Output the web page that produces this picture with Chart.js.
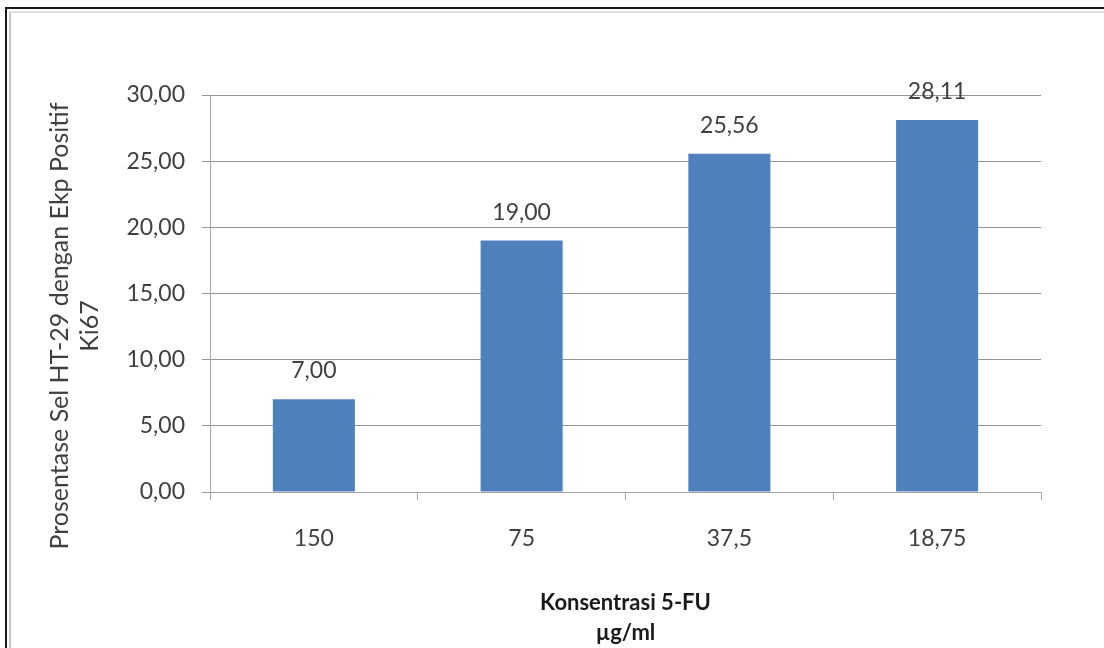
<!DOCTYPE html>
<html>
<head>
<meta charset="utf-8">
<script src="https://cdn.jsdelivr.net/npm/chart.js@4"></script>
<style>
  html, body { margin: 0; padding: 0; background: #fff; }
  #wrap { position: relative; width: 1104px; height: 648px; overflow: hidden; }
  #frame1 { position: absolute; left: 5px; top: 7px; width: 1200px; height: 800px;
            border-left: 2px solid #1a1a1a; border-top: 2px solid #1a1a1a; }
  #frame2 { position: absolute; left: 9px; top: 11px; width: 1200px; height: 800px;
            border-left: 2px solid #c8c8c8; border-top: 2px solid #e2e2e2; }
  canvas { position: absolute; left: 0; top: 0; }
</style>
</head>
<body>
<div id="wrap">
  <div id="frame1"></div>
  <div id="frame2"></div>
  <canvas id="c" width="1104" height="648"></canvas>
</div>
<script>
const categories = ['150', '75', '37,5', '18,75'];
const values = [7.00, 19.00, 25.56, 28.11];
const yTitleLines = ['Prosentase Sel HT-29 dengan Ekp Positif', 'Ki67'];
const xTitleLines = ['Konsentrasi 5-FU', 'µg/ml'];

const FONT = 'Lato';
const fmt = v => v.toFixed(2).replace('.', ',');

const dataLabelPlugin = {
  id: 'dataLabels',
  afterDatasetsDraw(chart) {
    const ctx = chart.ctx;
    const meta = chart.getDatasetMeta(0);
    ctx.save();
    ctx.font = '23px ' + FONT;
    ctx.fillStyle = '#404040';
    ctx.textAlign = 'center';
    ctx.textBaseline = 'alphabetic';
    meta.data.forEach((el, i) => {
      ctx.fillText(fmt(values[i]), el.x, el.y - 21);
    });
    ctx.restore();
  }
};

const yTitlePlugin = {
  id: 'yTitle',
  afterDraw(chart) {
    const ctx = chart.ctx;
    ctx.save();
    ctx.font = '25px ' + FONT;
    ctx.fillStyle = '#404040';
    ctx.textAlign = 'center';
    ctx.textBaseline = 'middle';
    ctx.translate(60, 326);
    ctx.rotate(-Math.PI / 2);
    yTitleLines.forEach((t, i) => ctx.fillText(t, 0, i * 30));
    ctx.restore();
  }
};

new Chart(document.getElementById('c'), {
  type: 'bar',
  data: {
    labels: categories,
    datasets: [{
      data: values,
      backgroundColor: '#4F81BD',
      borderWidth: 0,
      categoryPercentage: 1,
      barPercentage: 0.395
    }]
  },
  options: {
    responsive: false,
    devicePixelRatio: 1,
    animation: false,
    layout: { padding: { left: 0, right: 63, top: 95, bottom: 0 } },
    plugins: { legend: { display: false }, tooltip: { enabled: false } },
    scales: {
      x: {
        afterFit(scale) { scale.height = 156; },
        grid: { drawOnChartArea: false, drawTicks: true, tickLength: 8, color: '#a6a6a6', offset: true },
        border: { display: true, color: '#a6a6a6' },
        ticks: { font: { family: FONT, size: 23 }, color: '#404040', padding: 25 },
        title: {
          display: true,
          text: xTitleLines,
          color: '#1a1a1a',
          font: { family: FONT, size: 22, weight: 'bold', lineHeight: 30 / 22 },
          padding: { top: 0, bottom: 0 }
        }
      },
      y: {
        min: 0, max: 30,
        afterFit(scale) { scale.width = 210; },
        grid: { color: '#959595', tickLength: 8 },
        border: { display: true, color: '#a6a6a6' },
        ticks: {
          stepSize: 5,
          font: { family: FONT, size: 23 },
          color: '#404040',
          padding: 17,
          callback: v => fmt(v)
        }
      }
    }
  },
  plugins: [dataLabelPlugin, yTitlePlugin]
});
</script>
</body>
</html>
